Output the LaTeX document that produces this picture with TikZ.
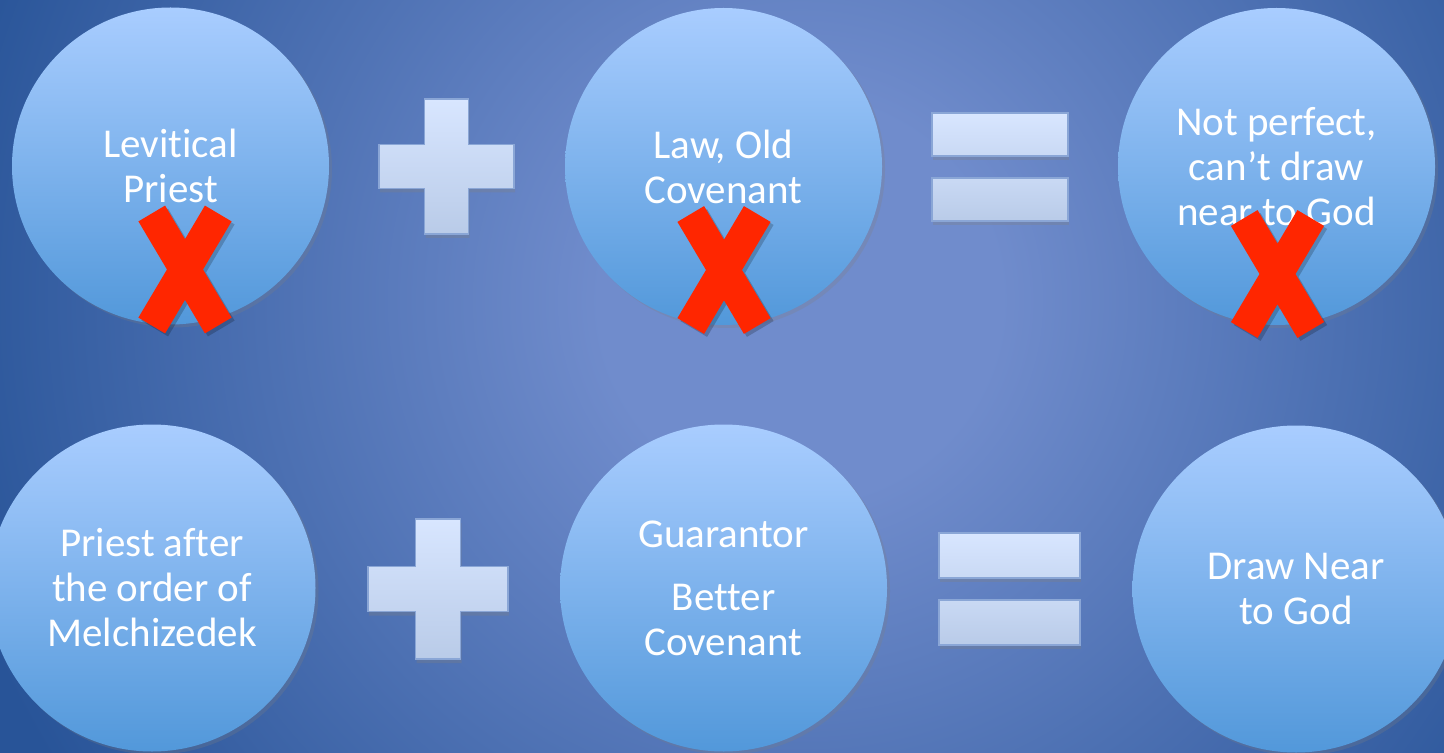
\documentclass[tikz,border=0pt]{standalone}
\usepackage{fontspec}
\setmainfont{Carlito}[Ligatures={NoCommon}]
\usepackage{tikz}
\usetikzlibrary{shadows,positioning}

\definecolor{bgin}{RGB}{112,140,204}
\definecolor{bgout}{RGB}{40,84,152}
\definecolor{balltop}{RGB}{169,205,255}
\definecolor{ballbot}{RGB}{82,152,218}
\definecolor{signtop}{RGB}{216,230,255}
\definecolor{signmid}{RGB}{201,217,244}
\definecolor{signbot}{RGB}{185,203,232}
\definecolor{signedge}{RGB}{138,166,214}
\definecolor{crossred}{RGB}{255,38,0}

\pgfdeclareradialshading{backglow}{\pgfpoint{0bp}{0bp}}{color(0bp)=(bgin); color(5bp)=(bgin); color(22bp)=(bgout); color(25bp)=(bgout)}

\begin{document}
\begin{tikzpicture}[
x=0.5pt,y=-0.5pt,
ball/.style={
	circle,
	minimum size=158.5pt,
	inner sep=0pt,
	top color=balltop,
	bottom color=ballbot,
	text=white,
	align=center,
	font=\fontsize{20.5pt}{22.5pt}\selectfont,
	drop shadow={shadow xshift=1.5pt,shadow yshift=-1.5pt,opacity=0.25}
},
bigball/.style={
	ball,
	minimum size=163.5pt
},
sign/.style={
	draw=signedge,
	line width=0.6pt,
	top color=signtop,
	bottom color=signbot,
	drop shadow={shadow xshift=0.5pt,shadow yshift=-2pt,opacity=0.3}
},
crossline/.style={
	draw=crossred,
	line width=15.5pt,
	line cap=butt
},
crossshade/.style={
	draw=black,
	opacity=0.2,
	line width=15.5pt,
	xshift=1.5pt,
	yshift=-1.5pt
}
]
\useasboundingbox (0,0) rectangle (1444,753);
\clip (0,0) rectangle (1444,753);
\shade[shading=backglow] (-200,-700) rectangle (1800,1300);

\node[ball] (levite) at (170.5,166) {Levitical\\Priest};
\node[ball] (law) at (723.5,166.5) {Law, Old\\Covenant};
\node[ball] (imperfect) at (1276.5,166.5) {Not perfect,\\can’t draw\\near to God};

\node[bigball] (melchi) at (152,588) {Priest after\\the order of\\Melchizedek};
\node[bigball] (guarantor) at (723.5,588) {Guarantor\\[9pt]Better\\Covenant};
\node[bigball] (drawnear) at (1296,589) {Draw Near\\to God};

\path[sign] (424.5,99) -- (468.5,99) -- (468.5,144.5) -- (514,144.5) -- (514,188.5) -- (468.5,188.5) -- (468.5,234) -- (424.5,234) -- (424.5,188.5) -- (379,188.5) -- (379,144.5) -- (424.5,144.5) -- cycle;
\path[sign] (415.5,519) -- (460.5,519) -- (460.5,566.5) -- (508,566.5) -- (508,611.5) -- (460.5,611.5) -- (460.5,659) -- (415.5,659) -- (415.5,611.5) -- (368,611.5) -- (368,566.5) -- (415.5,566.5) -- cycle;

\path[sign,bottom color=signmid] (932,113) rectangle (1068,156);
\path[sign,top color=signmid] (932,178) rectangle (1068,221);
\path[sign,bottom color=signmid] (939,533) rectangle (1080,578);
\path[sign,top color=signmid] (939,600) rectangle (1080,645);

\foreach \cx/\cy in {185/269.5,724/270,1277.5/274}{
	\draw[crossshade] (\cx-33.25,\cy-56) -- (\cx+33.25,\cy+56) (\cx+33.25,\cy-56) -- (\cx-33.25,\cy+56);
	\draw[crossline] (\cx-33.25,\cy-56) -- (\cx+33.25,\cy+56) (\cx+33.25,\cy-56) -- (\cx-33.25,\cy+56);
}

\end{tikzpicture}
\end{document}
